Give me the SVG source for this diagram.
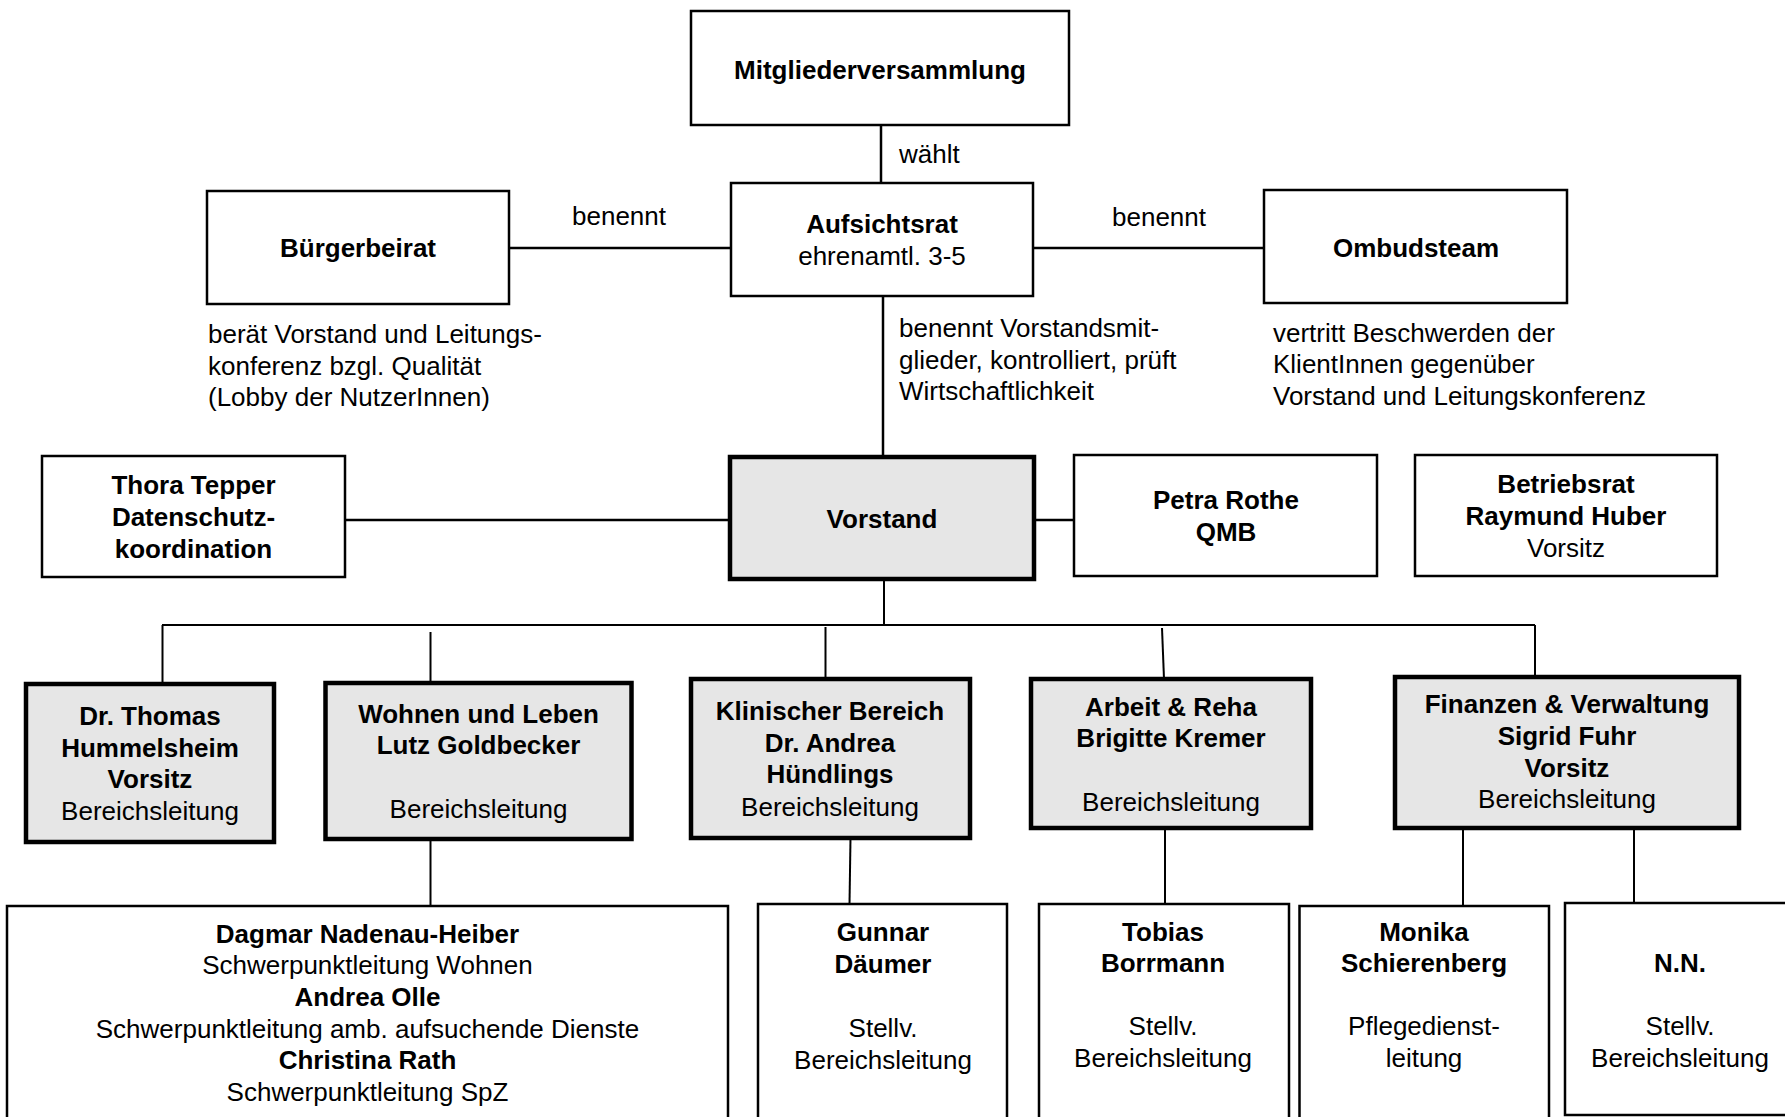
<svg xmlns="http://www.w3.org/2000/svg" width="1785" height="1117" viewBox="0 0 1785 1117">
<style>
text{font-family:"Liberation Sans",Arial,sans-serif;font-size:26px;fill:#000}
.c{text-anchor:middle}
.b{font-weight:bold}
.box{fill:#fff;stroke:#000;stroke-width:2.5}
.tbox{fill:#e6e6e6;stroke:#000;stroke-width:4.5}
.ln{stroke:#000;stroke-width:2.5;fill:none}
.ln2{stroke:#000;stroke-width:2;fill:none}
</style>
<rect width="1785" height="1117" fill="#fff"/>
<g id="connectors">
<line class="ln" x1="881" y1="125" x2="881" y2="183"/>
<line class="ln" x1="509" y1="248" x2="731" y2="248"/>
<line class="ln" x1="1033" y1="248" x2="1264" y2="248"/>
<line class="ln" x1="883" y1="296" x2="883" y2="457"/>
<line class="ln" x1="345" y1="520" x2="730" y2="520"/>
<line class="ln" x1="1034" y1="520" x2="1074" y2="520"/>
<line class="ln2" x1="884" y1="579" x2="884" y2="625"/>
<line class="ln2" x1="162" y1="625" x2="1535" y2="625"/>
<line class="ln2" x1="162.5" y1="625" x2="162.5" y2="683"/>
<line class="ln2" x1="430.5" y1="632" x2="430.5" y2="682"/>
<line class="ln2" x1="825.5" y1="627" x2="825.5" y2="679"/>
<line class="ln2" x1="1162" y1="628" x2="1164" y2="679"/>
<line class="ln2" x1="1535" y1="625" x2="1535" y2="677"/>
<line class="ln2" x1="430.5" y1="839" x2="430.5" y2="906"/>
<line class="ln2" x1="850.5" y1="838" x2="849.5" y2="904"/>
<line class="ln2" x1="1165" y1="828" x2="1165" y2="904"/>
<line class="ln2" x1="1463" y1="828" x2="1463" y2="906"/>
<line class="ln2" x1="1634" y1="828" x2="1634" y2="903"/>
<text x="899" y="163">wählt</text>
<text x="572" y="225">benennt</text>
<text x="1112" y="226">benennt</text>
</g>
<g id="mitglieder">
<rect class="box" x="691" y="11" width="378" height="114"/>
<text class="c b" x="880" y="79">Mitgliederversammlung</text>
</g>
<g id="aufsichtsrat">
<rect class="box" x="731" y="183" width="302" height="113"/>
<text class="c b" x="882" y="233">Aufsichtsrat</text>
<text class="c" x="882" y="265">ehrenamtl. 3-5</text>
</g>
<g id="aufsichtsrat-desc">
<text x="899" y="337">benennt Vorstandsmit-</text>
<text x="899" y="369">glieder, kontrolliert, prüft</text>
<text x="899" y="400">Wirtschaftlichkeit</text>
</g>
<g id="buergerbeirat">
<rect class="box" x="207" y="191" width="302" height="113"/>
<text class="c b" x="358" y="257">Bürgerbeirat</text>
</g>
<g id="buergerbeirat-desc">
<text x="208" y="343">berät Vorstand und Leitungs-</text>
<text x="208" y="375">konferenz bzgl. Qualität</text>
<text x="208" y="406">(Lobby der NutzerInnen)</text>
</g>
<g id="ombudsteam">
<rect class="box" x="1264" y="190" width="303" height="113"/>
<text class="c b" x="1416" y="257">Ombudsteam</text>
</g>
<g id="ombudsteam-desc">
<text x="1273" y="342">vertritt Beschwerden der</text>
<text x="1273" y="373">KlientInnen gegenüber</text>
<text x="1273" y="405">Vorstand und Leitungskonferenz</text>
</g>
<g id="thora">
<rect class="box" x="42" y="456" width="303" height="121"/>
<text class="c b" x="193.5" y="494">Thora Tepper</text>
<text class="c b" x="193.5" y="526">Datenschutz-</text>
<text class="c b" x="193.5" y="558">koordination</text>
</g>
<g id="vorstand">
<rect class="tbox" x="730" y="457" width="304" height="122"/>
<text class="c b" x="882" y="528">Vorstand</text>
</g>
<g id="petra">
<rect class="box" x="1074" y="455" width="303" height="121"/>
<text class="c b" x="1226" y="509">Petra Rothe</text>
<text class="c b" x="1226" y="541">QMB</text>
</g>
<g id="betriebsrat">
<rect class="box" x="1415" y="455" width="302" height="121"/>
<text class="c b" x="1566" y="493">Betriebsrat</text>
<text class="c b" x="1566" y="525">Raymund Huber</text>
<text class="c" x="1566" y="557">Vorsitz</text>
</g>
<g id="hummelsheim">
<rect class="tbox" x="26" y="684" width="248" height="158"/>
<text class="c b" x="150" y="725">Dr. Thomas</text>
<text class="c b" x="150" y="757">Hummelsheim</text>
<text class="c b" x="150" y="788">Vorsitz</text>
<text class="c" x="150" y="820">Bereichsleitung</text>
</g>
<g id="wohnen">
<rect class="tbox" x="325.5" y="683" width="306" height="156"/>
<text class="c b" x="478.5" y="723">Wohnen und Leben</text>
<text class="c b" x="478.5" y="754">Lutz Goldbecker</text>
<text class="c" x="478.5" y="818">Bereichsleitung</text>
</g>
<g id="klinisch">
<rect class="tbox" x="691" y="679" width="279" height="159"/>
<text class="c b" x="830" y="720">Klinischer Bereich</text>
<text class="c b" x="830" y="752">Dr. Andrea</text>
<text class="c b" x="830" y="783">Hündlings</text>
<text class="c" x="830" y="816">Bereichsleitung</text>
</g>
<g id="arbeit">
<rect class="tbox" x="1031" y="679" width="280" height="149"/>
<text class="c b" x="1171" y="716">Arbeit &amp; Reha</text>
<text class="c b" x="1171" y="747">Brigitte Kremer</text>
<text class="c" x="1171" y="811">Bereichsleitung</text>
</g>
<g id="finanzen">
<rect class="tbox" x="1395" y="677" width="344" height="151"/>
<text class="c b" x="1567" y="713">Finanzen &amp; Verwaltung</text>
<text class="c b" x="1567" y="745">Sigrid Fuhr</text>
<text class="c b" x="1567" y="777">Vorsitz</text>
<text class="c" x="1567" y="808">Bereichsleitung</text>
</g>
<g id="schwerpunkte">
<rect class="box" x="7" y="906" width="721" height="230"/>
<text class="c b" x="367.5" y="943">Dagmar Nadenau-Heiber</text>
<text class="c" x="367.5" y="974">Schwerpunktleitung Wohnen</text>
<text class="c b" x="367.5" y="1006">Andrea Olle</text>
<text class="c" x="367.5" y="1038">Schwerpunktleitung amb. aufsuchende Dienste</text>
<text class="c b" x="367.5" y="1069">Christina Rath</text>
<text class="c" x="367.5" y="1101">Schwerpunktleitung SpZ</text>
</g>
<g id="daeumer">
<rect class="box" x="758" y="904" width="249" height="230"/>
<text class="c b" x="883" y="941">Gunnar</text>
<text class="c b" x="883" y="973">Däumer</text>
<text class="c" x="883" y="1037">Stellv.</text>
<text class="c" x="883" y="1069">Bereichsleitung</text>
</g>
<g id="borrmann">
<rect class="box" x="1039" y="904" width="250" height="230"/>
<text class="c b" x="1163" y="941">Tobias</text>
<text class="c b" x="1163" y="972">Borrmann</text>
<text class="c" x="1163" y="1035">Stellv.</text>
<text class="c" x="1163" y="1067">Bereichsleitung</text>
</g>
<g id="schierenberg">
<rect class="box" x="1299.5" y="906" width="249.5" height="230"/>
<text class="c b" x="1424" y="941">Monika</text>
<text class="c b" x="1424" y="972">Schierenberg</text>
<text class="c" x="1424" y="1035">Pflegedienst-</text>
<text class="c" x="1424" y="1067">leitung</text>
</g>
<g id="nn">
<rect class="box" x="1565" y="903" width="232" height="212"/>
<text class="c b" x="1680" y="972">N.N.</text>
<text class="c" x="1680" y="1035">Stellv.</text>
<text class="c" x="1680" y="1067">Bereichsleitung</text>
</g>
</svg>
